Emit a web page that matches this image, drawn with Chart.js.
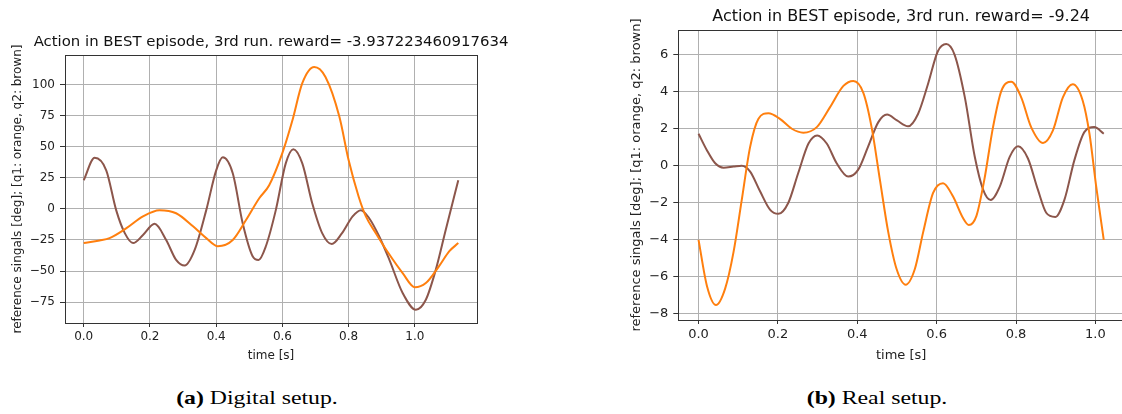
<!DOCTYPE html>
<html>
<head>
<meta charset="utf-8">
<script src="https://cdn.jsdelivr.net/npm/chart.js@4.4.0/dist/chart.umd.min.js"></script>
<style>
    body { margin: 0; width: 1122px; height: 414px; overflow: hidden; background: #fff; position: relative; }
    canvas { position: absolute; top: 0; }
    .cap { position: absolute; top: 387px; font-family: "Liberation Serif", serif; font-size: 19px; line-height: 21px; color: #000;
           white-space: nowrap; transform: translateX(-50%) scaleX(1.25); }
</style>
</head>
<body>
<canvas id="chartA" width="542" height="372" style="left:0"></canvas>
<canvas id="chartB" width="580" height="372" style="left:612px"></canvas>
<div class="cap" style="left:257px"><b>(a)</b> Digital setup.</div>
<div class="cap" style="left:877px"><b>(b)</b> Real setup.</div>
<script>
// (a) digital setup
var q1TimeA   = [0, 0.048, 0.078, 0.129, 0.179, 0.229, 0.279, 0.33, 0.37, 0.405, 0.45, 0.49, 0.53, 0.56, 0.60, 0.63, 0.66, 0.696, 0.73, 0.772, 0.80, 0.83, 0.852, 0.882, 0.92, 0.963, 1.0, 1.033, 1.073, 1.104, 1.131];
var q1ValuesA = [-27.5, -25.4, -23.5, -15.5, -6, -1, -3.5, -14, -23.5, -30, -25, -9, 8.5, 19, 45, 71, 101, 114, 106, 74, 39, 10, -6, -19.5, -35.5, -51.6, -63, -59.6, -46, -34, -27.5];
var q2TimeA   = [0, 0.033, 0.068, 0.098, 0.124, 0.149, 0.179, 0.214, 0.249, 0.279, 0.305, 0.335, 0.37, 0.40, 0.42, 0.45, 0.48, 0.51, 0.528, 0.55, 0.58, 0.61, 0.633, 0.66, 0.69, 0.72, 0.749, 0.78, 0.812, 0.837, 0.862, 0.892, 0.923, 0.963, 1.003, 1.033, 1.063, 1.093, 1.131];
var q2ValuesA = [23, 41, 31, -1, -19.5, -27.5, -21, -12, -25, -41, -45.5, -33, -1, 31, 41.4, 28.6, -11.5, -38, -41, -30, -1, 36.6, 48, 36.6, 4.5, -19.5, -28.3, -19.5, -6, -1, -7.5, -22, -41, -67.6, -81, -73, -49, -17, 23];
var yTicksA   = [-75, -50, -25, 0, 25, 50, 75, 100];

// (b) real setup
var q1TimeB   = [0, 0.021, 0.044, 0.067, 0.088, 0.109, 0.13, 0.151, 0.176, 0.205, 0.235, 0.264, 0.298, 0.331, 0.365, 0.39, 0.415, 0.436, 0.457, 0.478, 0.499, 0.522, 0.545, 0.566, 0.591, 0.616, 0.641, 0.666, 0.681, 0.70, 0.72, 0.742, 0.763, 0.788, 0.813, 0.838, 0.868, 0.893, 0.918, 0.943, 0.968, 0.985, 1.002, 1.021];
var q1ValuesB = [-4.02, -6.5, -7.55, -6.66, -4.7, -1.84, 1.02, 2.54, 2.84, 2.54, 2.0, 1.79, 2.09, 3.16, 4.32, 4.59, 3.96, 2.09, -0.77, -3.6, -5.6, -6.45, -5.6, -3.6, -1.48, -0.95, -1.66, -2.82, -3.21, -2.73, -0.77, 2.09, 4.05, 4.54, 3.7, 2.09, 1.23, 1.91, 3.7, 4.41, 3.52, 1.73, -1.13, -4.02];
var q2TimeB   = [0, 0.021, 0.042, 0.063, 0.088, 0.109, 0.13, 0.155, 0.18, 0.201, 0.226, 0.251, 0.277, 0.299, 0.323, 0.348, 0.377, 0.402, 0.427, 0.453, 0.475, 0.50, 0.528, 0.553, 0.578, 0.603, 0.624, 0.645, 0.671, 0.696, 0.717, 0.736, 0.759, 0.784, 0.805, 0.83, 0.855, 0.876, 0.899, 0.922, 0.947, 0.972, 0.997, 1.021];
var q2ValuesB = [1.73, 0.84, 0.13, -0.11, -0.05, 0, -0.32, -1.39, -2.38, -2.61, -2.02, -0.41, 1.2, 1.64, 1.2, 0.13, -0.59, -0.23, 1.02, 2.36, 2.77, 2.45, 2.13, 2.8, 4.41, 6.2, 6.59, 6.02, 3.7, 0.48, -1.3, -1.86, -1.13, 0.48, 1.05, 0.39, -1.3, -2.55, -2.78, -1.84, 0.3, 1.82, 2.09, 1.73];
var yTicksB   = [-8, -6, -4, -2, 0, 2, 4, 6];

var xTicks = [0, 0.2, 0.4, 0.6, 0.8, 1.0];

var FONT = 'DejaVu Sans';
var ORANGE = '#ff7f0e';
var BROWN = '#8c564b';

function pts(t, v) {
    return t.map(function(x, i) { return { x: x, y: v[i] }; });
}

function minus(v) {
    return String(v).replace('-', '\u2212');
}

// draw the full box round the plot like matplotlib spines
var frame = {
    id: 'frame',
    afterDatasetsDraw: function(chart) {
        var a = chart.chartArea;
        var ctx = chart.ctx;
        ctx.save();
        ctx.strokeStyle = '#333';
        ctx.lineWidth = 1;
        ctx.strokeRect(Math.round(a.left) + 0.5, Math.round(a.top) + 0.5,
                       Math.round(a.right - a.left), Math.round(a.bottom - a.top));
        ctx.restore();
    }
};

function makeChart(id, cfg) {
    return new Chart(document.getElementById(id), {
        type: 'line',
        plugins: [frame],
        data: {
            datasets: [
                { data: pts(cfg.q1t, cfg.q1v), borderColor: ORANGE, borderWidth: 2, pointRadius: 0, cubicInterpolationMode: 'monotone' },
                { data: pts(cfg.q2t, cfg.q2v), borderColor: BROWN, borderWidth: 2, pointRadius: 0, cubicInterpolationMode: 'monotone' }
            ]
        },
        options: {
            responsive: false,
            animation: false,
            layout: { padding: { left: 0, right: cfg.padRight, top: 0, bottom: 0 } },
            plugins: {
                legend: { display: false },
                tooltip: { enabled: false },
                title: {
                    display: true,
                    text: cfg.title,
                    color: '#111',
                    font: { family: FONT, size: cfg.titleSize, weight: 'normal' },
                    padding: { top: cfg.titleTop, bottom: cfg.titleBottom }
                }
            },
            scales: {
                x: {
                    type: 'linear',
                    min: cfg.xMin,
                    max: cfg.xMax,
                    afterBuildTicks: function(s) { s.ticks = xTicks.map(function(v) { return { value: v }; }); },
                    afterFit: function(s) { s.height = cfg.xHeight; },
                    grid: { color: '#b0b0b0', lineWidth: 1, tickLength: 4, tickColor: '#333' },
                    border: { display: false },
                    ticks: {
                        autoSkip: false, maxRotation: 0, padding: 3, color: '#222',
                        font: { family: FONT, size: cfg.fontSize },
                        callback: function(v) { return v.toFixed(1); }
                    },
                    title: {
                        display: true, text: 'time [s]', color: '#222',
                        font: { family: FONT, size: cfg.fontSize },
                        padding: { top: 0, bottom: cfg.xTitleBottom }
                    }
                },
                y: {
                    min: cfg.yMin,
                    max: cfg.yMax,
                    afterBuildTicks: function(s) { s.ticks = cfg.yTicks.map(function(v) { return { value: v }; }); },
                    afterFit: function(s) { s.width = cfg.yWidth; },
                    grid: { color: '#b0b0b0', lineWidth: 1, tickLength: 5, tickColor: '#333' },
                    border: { display: false },
                    ticks: {
                        autoSkip: false, padding: 5, color: '#222',
                        font: { family: FONT, size: cfg.fontSize },
                        callback: function(v) { return minus(v); }
                    },
                    title: {
                        display: true, text: 'reference singals [deg]; [q1: orange, q2: brown]', color: '#222',
                        font: { family: FONT, size: cfg.fontSize },
                        padding: { top: cfg.yTitleTop, bottom: 0 }
                    }
                },
                // empty right-hand strip so the title centres over the plot
                yPad: {
                    position: 'right',
                    afterFit: function(s) { s.width = cfg.yWidth; },
                    grid: { display: false },
                    border: { display: false },
                    ticks: { display: false }
                }
            }
        }
    });
}

var chartA = makeChart('chartA', {
    q1t: q1TimeA, q1v: q1ValuesA, q2t: q2TimeA, q2v: q2ValuesA,
    title: 'Action in BEST episode, 3rd run. reward= -3.937223460917634',
    xMin: -0.0565, xMax: 1.1875, yMin: -91.7, yMax: 123.6, yTicks: yTicksA,
    padRight: 0, yWidth: 65, xHeight: 49, titleSize: 14.9, fontSize: 12,
    titleTop: 33.6, titleBottom: 3.6, xTitleBottom: 8.8, yTitleTop: 10.8
});

var chartB = makeChart('chartB', {
    q1t: q1TimeB, q1v: q1ValuesB, q2t: q2TimeB, q2v: q2ValuesB,
    title: 'Action in BEST episode, 3rd run. reward= -9.24',
    xMin: -0.051, xMax: 1.072, yMin: -8.36, yMax: 7.35, yTicks: yTicksB,
    padRight: 1.7, yWidth: 66.3, xHeight: 52, titleSize: 16, fontSize: 13,
    titleTop: 6.9, titleBottom: 3.9, xTitleBottom: 8.2, yTitleTop: 16.9
});
</script>
</body>
</html>
